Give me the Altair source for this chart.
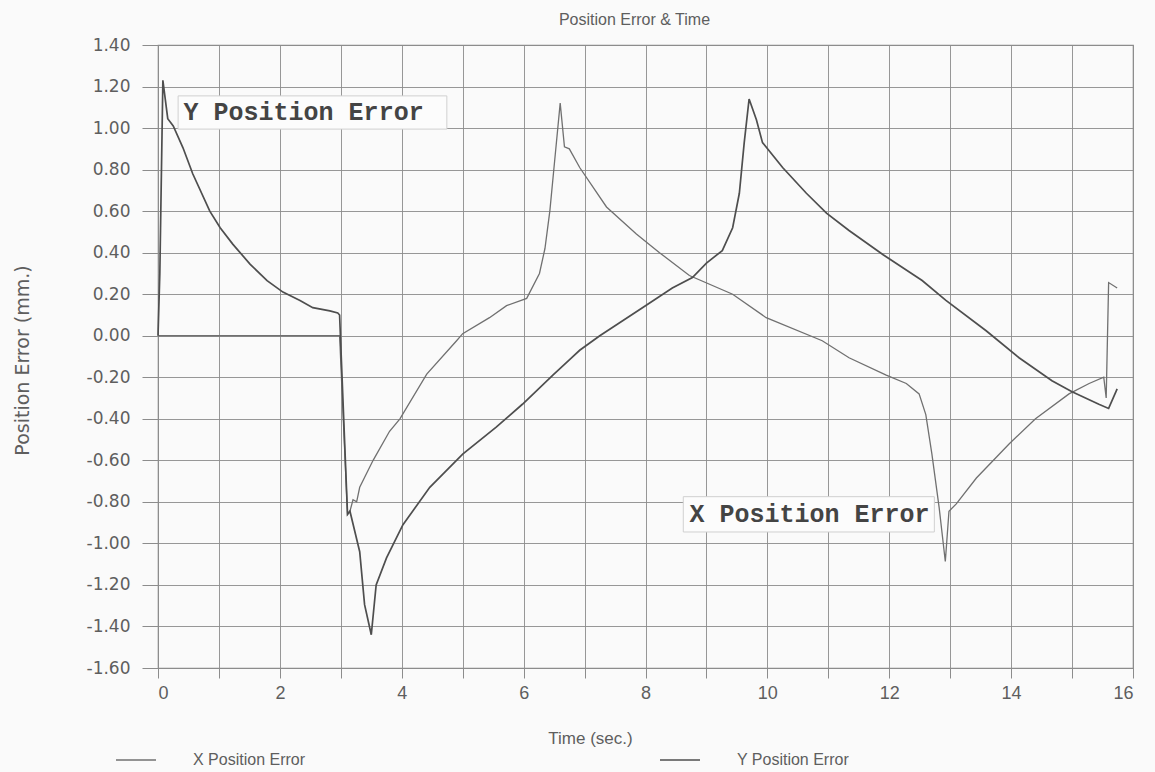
import altair as alt
import pandas as pd

# ---- data ----
x_time = [0.0, 2.98, 3.11, 3.15, 3.20, 3.26, 3.31, 3.53, 3.80, 3.97, 4.41, 4.90, 5.00,
          5.44, 5.72, 6.05, 6.26, 6.35, 6.43, 6.51, 6.60, 6.67, 6.75, 6.92, 7.36, 7.85,
          8.23, 8.72, 9.43, 9.98, 10.90, 11.34, 11.95, 12.28, 12.49, 12.60, 12.70, 12.82,
          12.92, 12.98, 13.10, 13.43, 13.97, 14.40, 14.95, 15.28, 15.52, 15.56, 15.60, 15.74]
x_error = [0.0, 0.0, -0.86, -0.845, -0.79, -0.80, -0.73, -0.60, -0.46, -0.40, -0.185, -0.024, 0.01,
           0.087, 0.145, 0.18, 0.30, 0.42, 0.60, 0.845, 1.12, 0.91, 0.90, 0.81, 0.62, 0.49,
           0.40, 0.29, 0.20, 0.087, -0.024, -0.106, -0.19, -0.23, -0.28, -0.38, -0.57, -0.83,
           -1.087, -0.845, -0.81, -0.685, -0.52, -0.40, -0.28, -0.23, -0.20, -0.30, 0.256, 0.23]

y_time = [0.0, 0.03, 0.08, 0.16, 0.25, 0.41, 0.57, 0.85, 1.02, 1.23, 1.51, 1.79, 2.05, 2.33,
          2.54, 2.82, 2.95, 2.98, 3.11, 3.15, 3.31, 3.39, 3.50, 3.58, 3.75, 4.02, 4.46, 5.00,
          5.55, 5.98, 6.48, 6.79, 6.92, 7.25, 7.95, 8.44, 8.77, 9.00, 9.26, 9.43, 9.54, 9.62,
          9.70, 9.82, 9.92, 10.25, 10.64, 10.97, 11.34, 11.90, 12.54, 12.93, 13.59, 14.13,
          14.67, 15.00, 15.44, 15.60, 15.74]
y_error = [0.0, 0.30, 1.23, 1.045, 1.01, 0.905, 0.78, 0.60, 0.52, 0.44, 0.345, 0.265, 0.21, 0.17,
           0.135, 0.12, 0.11, 0.10, -0.86, -0.845, -1.04, -1.295, -1.44, -1.20, -1.07, -0.91, -0.73, -0.57,
           -0.44, -0.33, -0.19, -0.106, -0.07, 0.0, 0.135, 0.23, 0.28, 0.35, 0.41, 0.52, 0.686, 0.93,
           1.14, 1.04, 0.93, 0.81, 0.686, 0.59, 0.507, 0.39, 0.266, 0.17, 0.024, -0.106,
           -0.217, -0.27, -0.33, -0.35, -0.256]

series_names = ["X Position Error", "Y Position Error"]

# annotation labels: text, anchor and box extents in data units
ann_text = ["Y Position Error", "X Position Error"]
ann_t = [0.42, 8.72]
ann_v = [1.075, -0.86]
ann_t0 = [0.33, 8.62]
ann_t1 = [4.74, 12.74]
ann_v0 = [0.995, -0.945]
ann_v1 = [1.155, -0.775]

x_ticks = list(range(0, 17))
y_ticks = [round(-1.6 + 0.2 * i, 2) for i in range(16)]

# ---- tables ----
df = pd.concat([
    pd.DataFrame({"t": x_time, "v": x_error, "series": series_names[0], "order": range(len(x_time))}),
    pd.DataFrame({"t": y_time, "v": y_error, "series": series_names[1], "order": range(len(y_time))}),
])
ann = pd.DataFrame({"text": ann_text, "t": ann_t, "v": ann_v,
                    "t0": ann_t0, "t1": ann_t1, "v0": ann_v0, "v1": ann_v1})

GRID = "#8c8c8c"
TXT = "#5e5e5e"

xscale = alt.Scale(domain=[0, 16], nice=False, zero=False)
yscale = alt.Scale(domain=[-1.6, 1.4], nice=False, zero=False)

xaxis = alt.Axis(values=x_ticks, grid=True, gridColor=GRID, gridWidth=1, gridOpacity=0.9,
                 tickColor=GRID, tickSize=10, domain=False, format="d",
                 labelExpr="datum.value % 2 == 0 ? datum.label : ''",
                 labelFont="Liberation Sans", labelFontSize=18, labelColor=TXT, labelPadding=6,
                 title="Time (sec.)", titleFont="Liberation Sans", titleFontSize=17,
                 titleFontWeight="normal", titleColor=TXT, titleX=432, titleY=70,
                 titleBaseline="middle")
yaxis = alt.Axis(values=y_ticks, grid=True, gridColor=GRID, gridWidth=1, gridOpacity=0.9,
                 tickColor=GRID, tickSize=16, domain=False,
                 labelExpr="(datum.value < -0.001 ? '-' : '') + format(abs(datum.value), '.2f')",
                 labelFont="DejaVu Sans", labelFontSize=17, labelColor=TXT, labelPadding=12,
                 title="Position Error (mm.)", titleFont="DejaVu Sans", titleFontSize=19,
                 titleFontWeight="normal", titleColor=TXT, titleX=-136, titleY=315,
                 titleBaseline="middle", titleAngle=270)

boxes = alt.Chart(ann).mark_rect(fill="#fcfcfc", stroke="#d0d0d0", strokeWidth=1).encode(
    x=alt.X("t0:Q", scale=xscale, axis=xaxis),
    x2="t1:Q",
    y=alt.Y("v0:Q", scale=yscale, axis=yaxis),
    y2="v1:Q",
)

labels = alt.Chart(ann).mark_text(font="Liberation Mono", fontSize=25, color="#444444",
                                  align="left", baseline="middle", fontWeight="bold").encode(
    x=alt.X("t:Q", scale=xscale), y=alt.Y("v:Q", scale=yscale), text="text:N")

lines = alt.Chart(df).mark_line(interpolate="linear").encode(
    x=alt.X("t:Q", scale=xscale),
    y=alt.Y("v:Q", scale=yscale),
    order="order:Q",
    color=alt.Color("series:N",
                    scale=alt.Scale(domain=series_names, range=["#707070", "#4e4e4e"]),
                    legend=alt.Legend(title=None, orient="none", direction="horizontal",
                                      legendX=-43, legendY=694, symbolType="stroke",
                                      symbolSize=1600, symbolStrokeWidth=1.5,
                                      labelFont="Liberation Sans", labelFontSize=16,
                                      labelColor=TXT, labelOffset=36, columnPadding=350,
                                      labelLimit=300)),
    strokeWidth=alt.StrokeWidth("series:N",
                                scale=alt.Scale(domain=series_names, range=[1.3, 1.7]),
                                legend=None),
)

chart = alt.layer(boxes, lines, labels).properties(
    width=975, height=623,
    autosize=alt.AutoSizeParams(type="none"),
    padding={"left": 158, "top": 45, "right": 22, "bottom": 104},
    background="#fafafa",
    title=alt.TitleParams("Position Error & Time", font="Liberation Sans", fontSize=16,
                          fontWeight="normal", color=TXT, anchor="middle", dx=-11, offset=8),
).configure_view(stroke=GRID, strokeWidth=1.2)

chart.save("out.html", embed_options={"renderer": "svg", "actions": False})
